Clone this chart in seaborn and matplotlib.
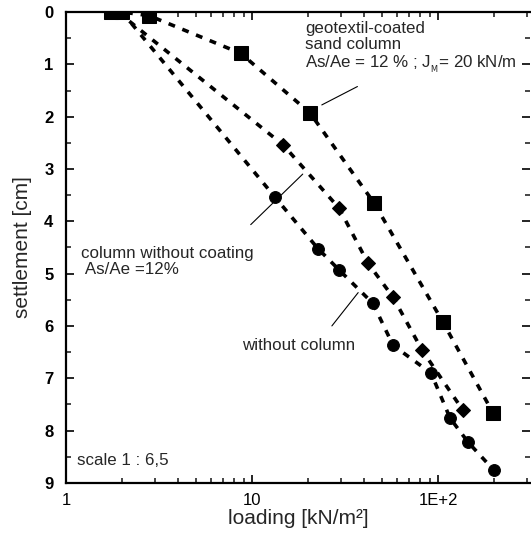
import numpy as np
import pandas as pd
import matplotlib
matplotlib.use("Agg")
import matplotlib.pyplot as plt
import seaborn as sns
from matplotlib.ticker import FixedLocator, NullFormatter

sns.set_theme(style="ticks")
plt.rcParams['font.family'] = ['Liberation Sans', 'DejaVu Sans']

# data
coated_load = [1.75, 2.0, 2.8, 8.7, 20.5, 45.3, 106, 198]
coated_settle = [0.0, 0.0, 0.07, 0.79, 1.93, 3.65, 5.92, 7.67]
uncoated_load = [1.9, 14.7, 29.4, 42, 57.3, 82, 136]
uncoated_settle = [0.0, 2.54, 3.75, 4.8, 5.45, 6.46, 7.61]
nocol_load = [2.0, 13.3, 22.6, 29.4, 44.7, 57.3, 91.7, 116, 145, 200]
nocol_settle = [0.0, 3.54, 4.52, 4.93, 5.57, 6.37, 6.9, 7.76, 8.22, 8.76]

series_names = ["geotextil-coated", "column without coating", "without column"]
x_ticks = [1, 10, 100]
x_ticklabels = ["1", "10", "1E+2"]
y_ticks = list(range(0, 10))

df = pd.concat([
    pd.DataFrame({"load": coated_load, "settle": coated_settle, "series": series_names[0]}),
    pd.DataFrame({"load": uncoated_load, "settle": uncoated_settle, "series": series_names[1]}),
    pd.DataFrame({"load": nocol_load, "settle": nocol_settle, "series": series_names[2]}),
], ignore_index=True)

fig = plt.figure(figsize=(5.31, 5.39), dpi=100)
ax = fig.add_axes([66/531, 1-483/539, (530-66)/531, (483-12)/539])

marker_map = {series_names[0]: "s", series_names[1]: "D", series_names[2]: "o"}
size_map = {series_names[0]: 9.5, series_names[1]: 7, series_names[2]: 8.5}
for name in series_names:
    sub = df[df.series == name]
    sns.lineplot(data=sub, x="load", y="settle", ax=ax, sort=False, estimator=None,
                 color="black", lw=2.6, marker=marker_map[name],
                 markersize=size_map[name], markeredgecolor="black", legend=False,
                 dashes=False)
for line in ax.get_lines():
    line.set_dashes((1.9, 2.2))

ax.set_xscale("log")
ax.set_xlim(1, 312)
ax.set_ylim(9, 0)

ax.xaxis.set_major_locator(FixedLocator(x_ticks))
ax.set_xticklabels(x_ticklabels)
ax.xaxis.set_minor_locator(FixedLocator([2,3,4,5,6,7,8,9,20,30,40,50,60,70,80,90,200,300]))
ax.xaxis.set_minor_formatter(NullFormatter())
ax.set_yticks(y_ticks)
ax.yaxis.set_minor_locator(FixedLocator([0.5+i for i in range(9)]))

ax.tick_params(which="major", direction="in", length=6, width=1.2, top=True, right=True,
               labelsize=12, colors="black")
ax.tick_params(axis="x", which="major", pad=7)
ax.tick_params(axis="y", which="major", pad=9)
ax.tick_params(which="minor", direction="in", length=3.5, width=1.2, top=True, right=True)
for lab in ax.get_yticklabels():
    lab.set_fontweight("bold")

for sp in ["left", "bottom", "top"]:
    ax.spines[sp].set_linewidth(1.6)
    ax.spines[sp].set_color("black")
ax.spines["right"].set_visible(False)

ax.set_xlabel("loading [kN/m²]", fontsize=15, labelpad=1)
ax.set_ylabel("settlement [cm]", fontsize=15, labelpad=9)

fs = 12.2
ax.text(19.3, 0.69, "geotextil-coated\nsand column\nAs/Ae = 12 % ; J$_{_\\mathrm{M}}$= 20 kN/m",
        fontsize=fs, va="center", ha="left", linespacing=1.1)
ax.annotate("", xy=(23, 1.8), xytext=(38, 1.4),
            arrowprops=dict(arrowstyle="-", lw=0.8, color="black"))
ax.text(1.21, 4.76, "column without coating\n As/Ae =12%", fontsize=fs, va="center",
        ha="left", linespacing=1.1)
ax.annotate("", xy=(9.6, 4.1), xytext=(19.2, 3.06),
            arrowprops=dict(arrowstyle="-", lw=0.8, color="black"))
ax.text(8.83, 6.37, "without column", fontsize=fs, va="center", ha="left")
ax.annotate("", xy=(26.3, 6.04), xytext=(38, 5.32),
            arrowprops=dict(arrowstyle="-", lw=0.8, color="black"))
ax.text(1.146, 8.57, "scale 1 : 6,5", fontsize=fs, va="center", ha="left")

fig.savefig("out.png", dpi=100)
